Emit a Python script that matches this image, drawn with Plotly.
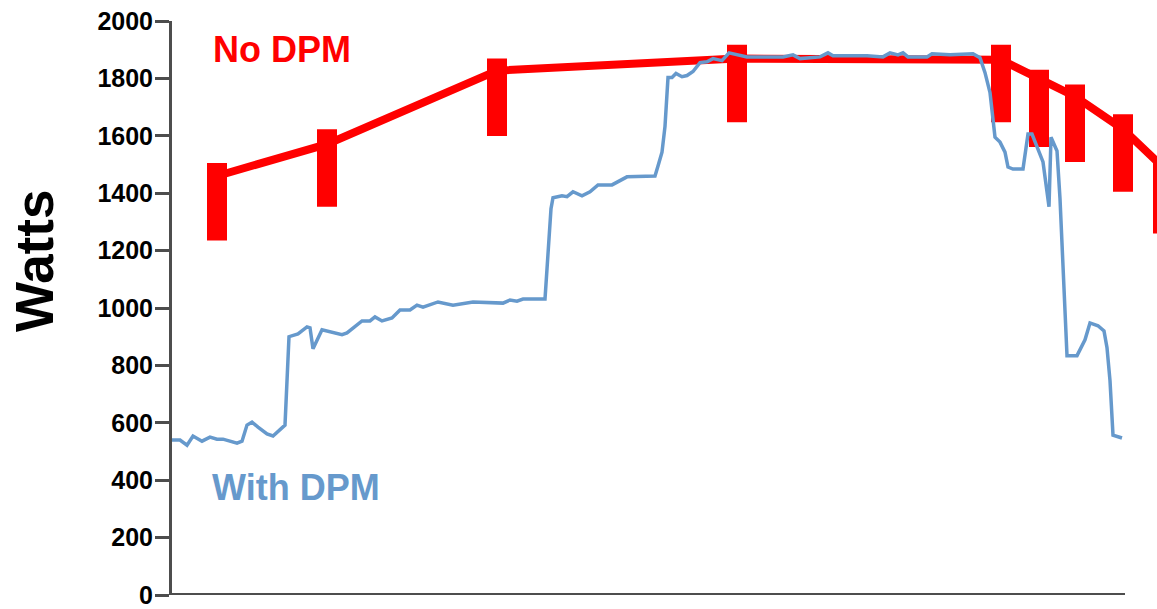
import plotly.graph_objects as go

# ---- data ----
# "No DPM" series (mean with asymmetric spread)
nodpm_t = [45, 155, 325, 565, 829, 867, 903, 951, 991]
nodpm_w = [1460, 1571, 1827, 1869, 1865, 1796, 1737, 1623, 1491]
nodpm_hi = [1505, 1623, 1869, 1917, 1917, 1830, 1779, 1675, 1526]
nodpm_lo = [1235, 1353, 1599, 1647, 1647, 1561, 1509, 1405, 1260]

# "With DPM" series
dpm_t = [0, 8, 15, 21, 30, 38, 45, 51, 65, 70, 75, 80, 86, 95, 101, 113, 117, 126,
         135, 138, 141, 150, 170, 175, 190, 198, 203, 210, 220, 228, 238, 245, 251,
         266, 281, 301, 331, 338, 345, 351, 373, 377, 379, 381, 390, 395, 401, 410,
         418, 426, 440, 455, 471, 483, 486, 490, 493, 496, 500, 504, 510, 515, 521,
         528, 535, 541, 550, 557, 575, 595, 611, 621, 628, 648, 656, 661, 695, 711,
         718, 726, 731, 736, 755, 760, 778, 801, 808, 813, 818, 823, 828, 833, 836,
         841, 851, 856, 860, 871, 877, 879, 885, 888, 890, 895, 905, 913, 918, 926,
         932, 935, 938, 941, 950]
dpm_w = [540, 540, 522, 554, 536, 550, 543, 543, 529, 536, 592, 602, 585, 561, 554,
         592, 900, 910, 934, 931, 858, 924, 907, 913, 955, 955, 969, 955, 965, 993,
         993, 1010, 1003, 1021, 1010, 1021, 1017, 1028, 1024, 1031, 1031, 1242, 1346,
         1384, 1391, 1388, 1405, 1391, 1405, 1429, 1429, 1457, 1457, 1460, 1495, 1543,
         1633, 1803, 1803, 1817, 1806, 1810, 1824, 1855, 1858, 1869, 1862, 1889, 1875,
         1875, 1875, 1882, 1869, 1875, 1889, 1879, 1879, 1875, 1889, 1882, 1889, 1875,
         1875, 1886, 1882, 1886, 1872, 1820, 1751, 1595, 1578, 1543, 1491, 1484, 1484,
         1606, 1606, 1509, 1353, 1595, 1547, 1381, 1208, 834, 834, 889, 948, 938, 920,
         862, 747, 557, 547]

y_ticks = [0, 200, 400, 600, 800, 1000, 1200, 1400, 1600, 1800, 2000]
x_axis_end = 953

err_plus = [h - v for h, v in zip(nodpm_hi, nodpm_w)]
err_minus = [v - l for v, l in zip(nodpm_w, nodpm_lo)]

RED = "#FF0000"
BLUE = "#6699CC"
AXIS = "#4D4D4D"
FONT = "Liberation Sans, Arial, sans-serif"

fig = go.Figure()
fig.add_trace(go.Scatter(
    x=nodpm_t, y=nodpm_w, mode="lines", cliponaxis=False,
    line=dict(color=RED, width=8),
    error_y=dict(type="data", symmetric=False, array=err_plus, arrayminus=err_minus,
                 color=RED, thickness=20, width=0),
    showlegend=False, hoverinfo="skip"))
fig.add_trace(go.Scatter(
    x=dpm_t, y=dpm_w, mode="lines",
    line=dict(color=BLUE, width=3.5),
    showlegend=False, hoverinfo="skip"))

# bottom axis line (ends before right edge)
fig.add_shape(type="line", xref="x", yref="y", x0=0, x1=x_axis_end, y0=0, y1=0,
              line=dict(color=AXIS, width=4), layer="above")

PW = 985.0
fig.add_annotation(text="No DPM", xref="paper", yref="paper", x=39 / PW, y=0.950,
                   xanchor="left", yanchor="middle", showarrow=False,
                   font=dict(family=FONT, size=36, color=RED, weight="bold"))
fig.add_annotation(text="With DPM", xref="paper", yref="paper", x=38 / PW, y=0.188,
                   xanchor="left", yanchor="middle", showarrow=False,
                   font=dict(family=FONT, size=36, color=BLUE, weight="bold"))
fig.add_annotation(text="Watts", xref="paper", yref="paper", x=-137 / PW, y=0.582,
                   xanchor="center", yanchor="middle", showarrow=False, textangle=-90,
                   font=dict(family=FONT, size=53, color="black", weight="bold"))

fig.update_layout(
    width=1157, height=609,
    margin=dict(l=172, r=0, t=21, b=10),
    plot_bgcolor="white", paper_bgcolor="white",
    xaxis=dict(range=[0, 985], showline=False, showgrid=False, zeroline=False,
               showticklabels=False, ticks=""),
    yaxis=dict(range=[0, 2000], tickvals=y_ticks, showline=True, linecolor=AXIS,
               linewidth=3, showgrid=False, zeroline=False, ticks="outside",
               ticklen=14, tickwidth=3, tickcolor=AXIS, ticklabelstandoff=-3,
               ticklabeloverflow="allow",
               tickfont=dict(family=FONT, size=25, color="black", weight="bold"),
               minor=dict(ticks="inside", tickvals=[100, 300, 500, 700, 900, 1100, 1300,
                                                    1500, 1700, 1900],
                          ticklen=4, tickwidth=4, tickcolor="white")),
)

# remove the default page margin so the 1157x609 figure fills the window exactly
fig.write_html("out.html", config={"displayModeBar": False},
               post_script="document.body.style.margin='0';document.body.style.overflow='hidden';")
